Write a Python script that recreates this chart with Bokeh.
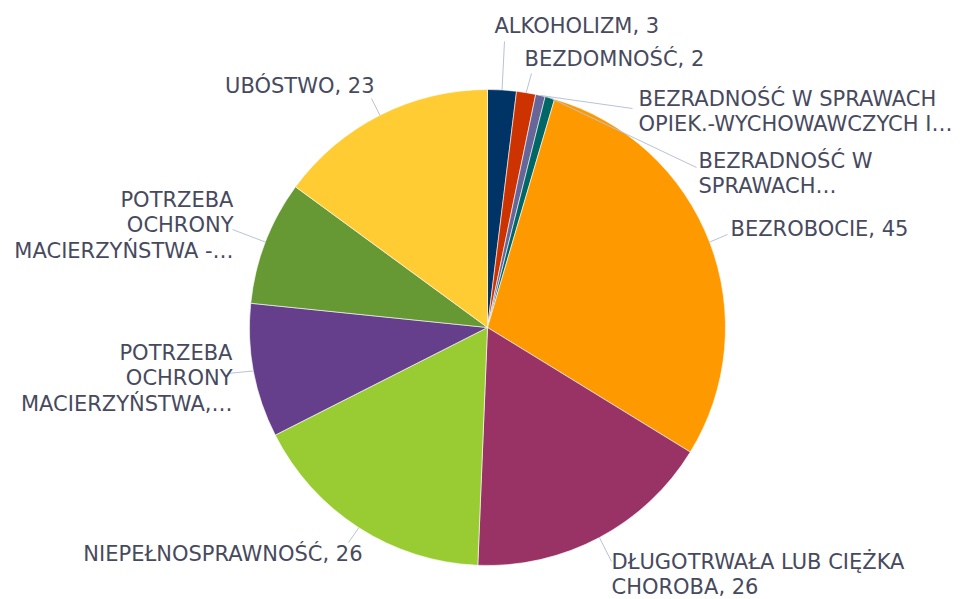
import math
from bokeh.plotting import figure
from bokeh.models import Range1d, ColumnDataSource
from bokeh.embed import file_html
from bokeh.resources import INLINE
from bokeh.core.properties import value

# ---- data ----
categories = ["ALKOHOLIZM", "BEZDOMNOŚĆ",
              "BEZRADNOŚĆ W SPRAWACH OPIEK.-WYCHOWAWCZYCH I…",
              "BEZRADNOŚĆ W SPRAWACH…", "BEZROBOCIE",
              "DŁUGOTRWAŁA LUB CIĘŻKA CHOROBA", "NIEPEŁNOSPRAWNOŚĆ",
              "POTRZEBA OCHRONY MACIERZYŃSTWA,…",
              "POTRZEBA OCHRONY MACIERZYŃSTWA -…", "UBÓSTWO"]
counts = [3, 2, 1, 1, 45, 26, 26, 14, 13, 23]
label_texts = ["ALKOHOLIZM, 3", "BEZDOMNOŚĆ, 2",
               "BEZRADNOŚĆ W SPRAWACH\nOPIEK.-WYCHOWAWCZYCH I…",
               "BEZRADNOŚĆ W\nSPRAWACH…", "BEZROBOCIE, 45",
               "DŁUGOTRWAŁA LUB CIĘŻKA\nCHOROBA, 26", "NIEPEŁNOSPRAWNOŚĆ, 26",
               "POTRZEBA\nOCHRONY\nMACIERZYŃSTWA,…",
               "POTRZEBA\nOCHRONY\nMACIERZYŃSTWA -…", "UBÓSTWO, 23"]

# ---- styles / layout ----
colors = ["#003366", "#cc3300", "#666699", "#006666", "#ff9900",
          "#993366", "#99cc33", "#663f8c", "#669933", "#ffcc33"]
W, H = 967, 599
def sx(X): return X
def sy(Y): return H - Y
CX, CY, R = sx(487), sy(327), 238
# leader line end points and label anchors (screen px)
leader_end = [(504, 41), (531, 73), (632, 108), (696, 167), (727, 234),
              (611, 561), (348, 542), (227, 373), (232, 229), (371, 98)]
label_pos = [(494, 25), (524, 58), (638, 111), (698, 173), (730, 228),
             (611, 574), (362, 553), (232, 378), (233, 225), (374, 85)]
label_align = ["left"] * 6 + ["right"] * 4

total = sum(counts)
starts, ends, mids = [], [], []
cum = 0
for c in counts:
    a0 = cum / total * 2 * math.pi
    cum += c
    a1 = cum / total * 2 * math.pi
    starts.append(math.pi / 2 - a0)
    ends.append(math.pi / 2 - a1)
    mids.append((a0 + a1) / 2)

p = figure(width=W, height=H, x_range=Range1d(0, W), y_range=Range1d(0, H),
           output_backend="svg", toolbar_location=None, min_border=0)
p.axis.visible = False
p.grid.visible = False
p.outline_line_color = None
p.background_fill_color = "white"

src = ColumnDataSource(dict(x=[CX] * len(counts), y=[CY] * len(counts),
                            s=starts, e=ends, c=colors, cat=categories, v=counts))
p.wedge(x="x", y="y", radius=R, start_angle="s", end_angle="e",
        direction="clock", fill_color="c", line_color="white",
        line_width=0.6, source=src)

xs, ys = [], []
for m, (ex, ey) in zip(mids, leader_end):
    x0 = CX + R * math.sin(m)
    y0 = CY + R * math.cos(m)
    xs.append([x0, sx(ex)])
    ys.append([y0, sy(ey)])
p.multi_line(xs, ys, line_color="#b8c3d6", line_width=1)

for t, (lx, ly), al in zip(label_texts, label_pos, label_align):
    p.text(x=[sx(lx)], y=[sy(ly)], text=[t], text_align=al,
           text_baseline="middle", text_font=value("DejaVu Sans"),
           text_font_size="21px", text_color="#474a5e",
           text_line_height=1.05)

open("out.html", "w").write(file_html(p, INLINE))
